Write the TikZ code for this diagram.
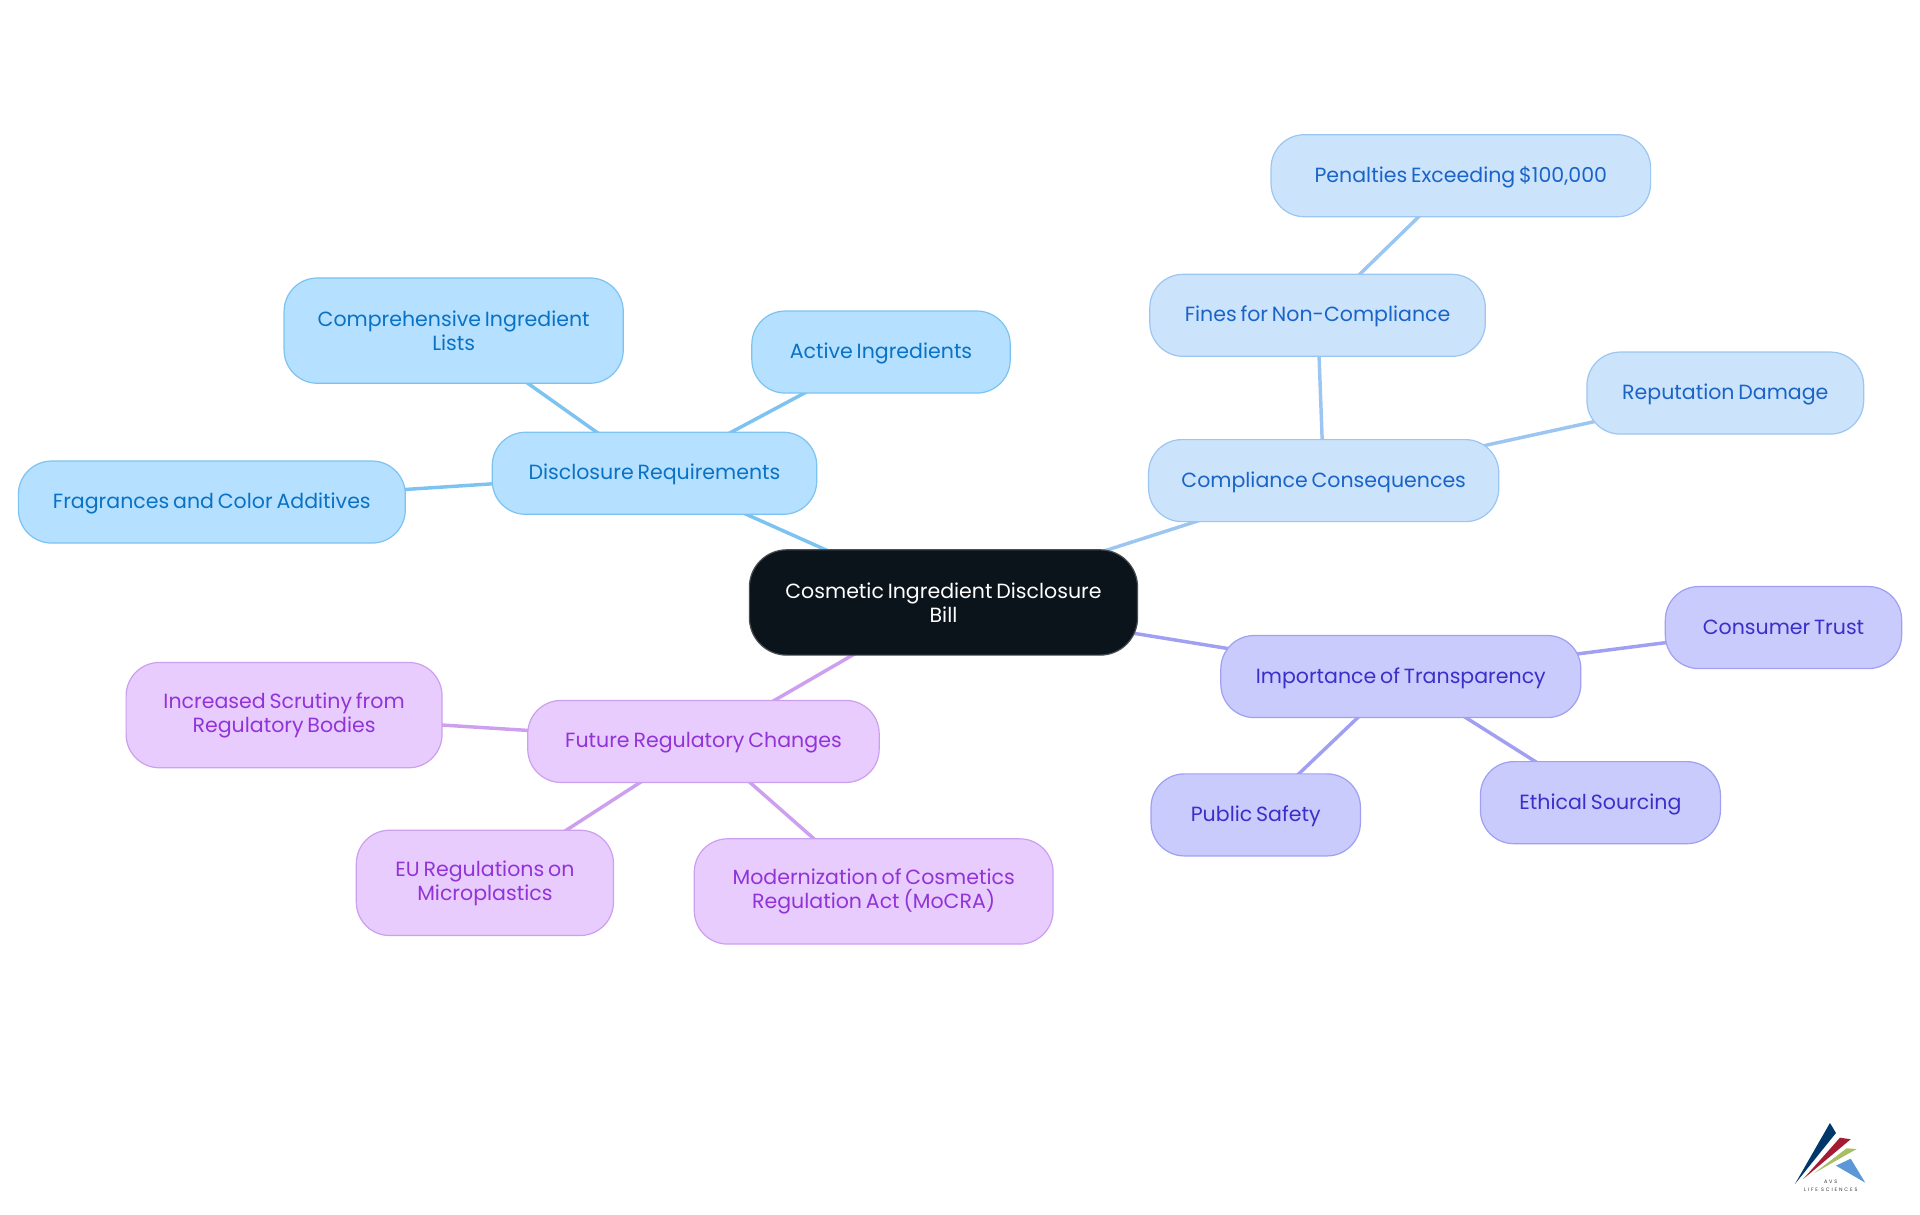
\documentclass[tikz,border=0pt]{standalone}
\usepackage{fontspec}
\setmainfont{Poppins}[WordSpace=0.7]
\newfontfamily\logofont{Poppins}[LetterSpace=38]
\usetikzlibrary{backgrounds}
\definecolor{rootfill}{HTML}{0B131B}
\definecolor{afill}{HTML}{B5E0FF}\definecolor{adraw}{HTML}{7CC3F2}\definecolor{atext}{HTML}{0A72C4}
\definecolor{bfill}{HTML}{CCE3FC}\definecolor{bdraw}{HTML}{9CC6F2}\definecolor{btext}{HTML}{1A64C8}
\definecolor{cfill}{HTML}{C9CBFD}\definecolor{cdraw}{HTML}{A09FF2}\definecolor{ctext}{HTML}{3A2FC8}
\definecolor{dfill}{HTML}{E7CCFD}\definecolor{ddraw}{HTML}{CC9FEF}\definecolor{dtext}{HTML}{9233D8}
\tikzset{
  box/.style={shape=rectangle,rounded corners=25pt,line width=0.9pt,inner sep=0pt,align=center,
    font=\fontsize{15.4pt}{18pt}\selectfont},
  oneline/.style={text height=13.3pt,text depth=3.5pt},
  rootbox/.style={box,rounded corners=28pt,fill=rootfill,draw=rootfill!75!white,text=white},
  abox/.style={box,fill=afill,draw=adraw,text=atext},
  bbox/.style={box,fill=bfill,draw=bdraw,text=btext},
  cbox/.style={box,fill=cfill,draw=cdraw,text=ctext},
  dbox/.style={box,fill=dfill,draw=ddraw,text=dtext},
  link/.style={line width=2.6pt},
  alink/.style={link,draw=adraw},
  blink/.style={link,draw=bdraw},
  clink/.style={link,draw=cdraw},
  dlink/.style={link,draw=ddraw},
  logotext/.style={inner sep=0pt,text=black!80,font=\logofont\fontsize{3.7pt}{4pt}\selectfont},
}
\newlength{\un}\setlength{\un}{0.9184pt}
\begin{document}
\begin{tikzpicture}[x=0.9184pt,y=-0.9184pt]
\useasboundingbox (0,0) rectangle (1568,992.2);
\node[rootbox,minimum width=317\un,minimum height=86\un] (root) at (770.5,492) {Cosmetic Ingredient Disclosure\\Bill};
\node[abox,oneline,minimum width=265\un,minimum height=67\un] (disc) at (534.5,386.5) {Disclosure Requirements};
\node[abox,minimum width=277\un,minimum height=86\un] (comp) at (370.5,270) {Comprehensive Ingredient\\Lists};
\node[abox,oneline,minimum width=211\un,minimum height=67\un] (active) at (719.5,287.5) {Active Ingredients};
\node[abox,oneline,minimum width=316\un,minimum height=67\un] (frag) at (173,410) {Fragrances and Color Additives};
\node[bbox,oneline,minimum width=286\un,minimum height=67\un] (cons) at (1081,392.5) {Compliance Consequences};
\node[bbox,oneline,minimum width=274\un,minimum height=67\un] (fines) at (1076,257.5) {Fines for Non-Compliance};
\node[bbox,oneline,minimum width=310\un,minimum height=67\un] (pen) at (1193,143.5) {Penalties Exceeding \$100,000};
\node[bbox,oneline,minimum width=226\un,minimum height=67\un] (rep) at (1409,321) {Reputation Damage};
\node[cbox,oneline,minimum width=294\un,minimum height=67\un] (imp) at (1144,552.5) {Importance of Transparency};
\node[cbox,oneline,minimum width=193\un,minimum height=67\un] (trust) at (1456.5,512.5) {Consumer Trust};
\node[cbox,oneline,minimum width=171\un,minimum height=67\un] (safety) at (1025.5,665.5) {Public Safety};
\node[cbox,oneline,minimum width=196\un,minimum height=67\un] (ethic) at (1307,655.5) {Ethical Sourcing};
\node[dbox,oneline,minimum width=287\un,minimum height=67\un] (fut) at (574.5,605.5) {Future Regulatory Changes};
\node[dbox,minimum width=258\un,minimum height=86\un] (scrut) at (232,584) {Increased Scrutiny from\\Regulatory Bodies};
\node[dbox,minimum width=210\un,minimum height=86\un] (eu) at (396,721) {EU Regulations on\\Microplastics};
\node[dbox,minimum width=293\un,minimum height=86\un] (mocra) at (713.5,728) {Modernization of Cosmetics\\Regulation Act (MoCRA)};
\begin{scope}[on background layer]
\draw[alink] (root.center) -- (disc.center);
\draw[alink] (disc.center) -- (comp.center);
\draw[alink] (disc.center) -- (active.center);
\draw[alink] (disc.center) -- (frag.center);
\draw[blink] (root.center) -- (cons.center);
\draw[blink] (cons.center) -- (fines.center);
\draw[blink] (fines.center) -- (pen.center);
\draw[blink] (cons.center) -- (rep.center);
\draw[clink] (root.center) -- (imp.center);
\draw[clink] (imp.center) -- (trust.center);
\draw[clink] (imp.center) -- (safety.center);
\draw[clink] (imp.center) -- (ethic.center);
\draw[dlink] (root.center) -- (fut.center);
\draw[dlink] (fut.center) -- (scrut.center);
\draw[dlink] (fut.center) -- (eu.center);
\draw[dlink] (fut.center) -- (mocra.center);
\end{scope}
\begin{scope}[x=0.75pt,y=-0.75pt]
\fill[fill={rgb,255:red,0;green,56;blue,108}] (1795,1184) -- (1830,1123) -- (1836,1133) -- cycle;
\fill[fill={rgb,255:red,164;green,28;blue,52}] (1803.3,1179) -- (1840,1137.7) -- (1850.7,1139.3) -- cycle;
\fill[fill={rgb,255:red,170;green,190;blue,100}] (1814,1173.3) -- (1846.7,1148.3) -- (1856.7,1149) -- cycle;
\fill[fill={rgb,255:red,92;green,152;blue,216}] (1836,1165.7) -- (1850.7,1158.7) -- (1865.3,1182.7) -- cycle;
\node[logotext] (avs) at (1830.7,1182) {AVS};
\node[logotext] (life) at (1830.7,1189.3) {LIFE SCIENCES};
\end{scope}
\end{tikzpicture}
\end{document}
